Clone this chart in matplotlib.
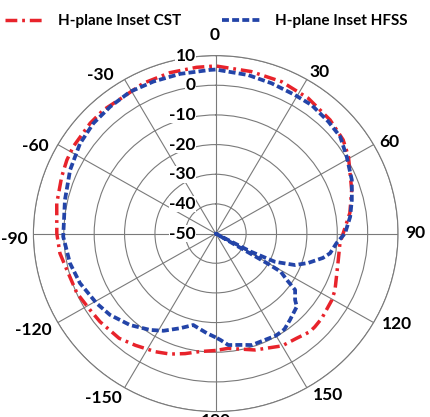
import numpy as np
import matplotlib
matplotlib.use("Agg")
import matplotlib.pyplot as plt
from matplotlib.transforms import offset_copy

plt.rcParams["font.family"] = ["Lato", "DejaVu Sans"]
plt.rcParams["lines.scale_dashes"] = False

# H-plane radiation pattern, CST simulation (angle in degrees, gain in dB)
cst_angle = [-180, -172.6, -166, -159.7, -153.5, -145, -138, -128, -122, -113.7,
             -104, -97.4, -90, -79, -69.3, -63.2, -58, -48, -41.6, -33.4,
             -25.2, -15.5, -6.4, 0, 12, 23, 33.7, 44.5, 53, 59.3,
             71.8, 81, 94.6, 102.4, 115.8, 120.4, 129.3, 134, 137, 143,
             150, 161.8, 174, 180]
cst_gain = [-10.6, -9.9, -8.3, -6.7, -5.5, -4.0, -2.5, -1.7, -1.3, -0.1,
            0.5, 1.7, 2.3, 3.3, 4.2, 4.9, 5.3, 5.6, 5.7, 5.2,
            6.0, 6.3, 6.4, 6.5, 5.85, 5.6, 4.85, 3.7, 2.5, 0.8,
            -2.9, -5.3, -9.0, -8.7, -6.4, -5.7, -4.9, -4.7, -4.7, -5.8,
            -6.3, -8.7, -11.1, -10.6]

# H-plane radiation pattern, HFSS simulation (angle in degrees, gain in dB)
hfss_angle = [-180, -175, -166.5, -159.8, -152.3, -146.4, -137.5, -128.2, -121, -110.5,
              -101.8, -91.2, -77.2, -65.9, -55.8, -47.3, -39.1, -30.5, -21.8, -12.3,
              -2, 0, 11.3, 19.9, 29.2, 36.1, 44.5, 51.4, 59, 68,
              75.8, 82.7, 89.9, 94.6, 100, 103.1, 108, 112.1, 116, 117.8,
              119.3, 120.6, 121, 123.7, 126, 130.6, 132.7, 140, 145, 150,
              162.5, 166.4, 173.7, 177.5, 180]
hfss_gain = [-15.0, -16.3, -18.3, -16.0, -13.0, -11.0, -8.2, -5.7, -4.3, -2.3,
             -1.0, 0.2, 0.9, 2.5, 4.0, 4.8, 5.1, 5.5, 5.2, 5.1,
             5.2, 5.3, 4.5, 3.9, 3.5, 3.6, 2.9, 2.4, 0.3, -1.7,
             -3.8, -5.4, -7.45, -10.1, -11.8, -13.8, -18.0, -21.8, -28.3, -37.0,
             -50.0, -30.0, -25.0, -21.9, -17.7, -15.6, -13.7, -12.0, -10.6, -10.3,
             -10.6, -11.4, -12.2, -14.1, -15.0]

series_labels = ["H-plane Inset CST", "H-plane Inset HFSS"]
theta_ticks = [0, 30, 60, 90, 120, 150, 180, 210, 240, 270, 300, 330]
theta_labels = ["0", "30", "60", "90", "120", "150", "180",
                "-150", "-120", "-90", "-60", "-30"]
r_ticks = [10, 0, -10, -20, -30, -40, -50]

# where each angle label sits relative to the outer ring: (ha, va, dx px, dy px)
label_place = {
    0: ("center", "bottom", -1, 13), 30: ("left", "bottom", 3, -1),
    60: ("left", "center", 6, 3), 90: ("left", "center", 7, 1),
    120: ("left", "center", 8, -1.5), 150: ("left", "top", 6, 1),
    180: ("center", "top", 0, -1), 210: ("right", "top", -3, -2),
    240: ("right", "center", -6, -7), 270: ("right", "center", -6, -5),
    300: ("right", "center", -9.5, -1.5), 330: ("right", "bottom", -11, -3.5),
}

fig = plt.figure(figsize=(4.30, 4.17), dpi=100)
ax = fig.add_axes([0.0777, 0.013, 0.848, 0.8537], projection="polar")
ax.set_aspect("auto")
ax.set_theta_zero_location("N")
ax.set_theta_direction(-1)
ax.set_rlim(-50, 10)

grid_col = "#7a7a7a"
lab_font = dict(fontsize=12.5, fontweight="bold")
ax.set_rgrids(r_ticks, labels=[""] * len(r_ticks))
ax.set_thetagrids(theta_ticks, labels=[""] * len(theta_ticks))
ax.grid(True, color=grid_col, linewidth=0.8)
ax.spines["polar"].set_color(grid_col)
ax.spines["polar"].set_linewidth(0.8)

r_outer = ax.get_rmax()
for t, lab in zip(theta_ticks, theta_labels):
    ha, va, dx, dy = label_place[t]
    tr = offset_copy(ax.transData, fig=fig, x=dx, y=dy, units="dots")
    ax.text(np.deg2rad(t), r_outer, lab, transform=tr, ha=ha, va=va,
            clip_on=False, **lab_font)

red = "#E8232B"
blue = "#2344A8"
ax.plot(np.deg2rad(cst_angle), cst_gain, color=red, linewidth=2.5,
        dashes=(8.5, 3.5, 2.0, 3.5), label=series_labels[0], zorder=3)
ax.plot(np.deg2rad(hfss_angle), hfss_gain, color=blue, linewidth=2.7,
        dashes=(5.0, 2.3), label=series_labels[1], zorder=3)

# radial value labels just left of the 0-degree spoke
lab_tr = offset_copy(ax.transData, fig=fig, x=-20, y=0, units="dots")
for r in r_ticks:
    ax.text(0, r, str(r), transform=lab_tr, ha="right", va="center",
            zorder=4, bbox=dict(facecolor="white", edgecolor="none", pad=0.3),
            **lab_font)

fig.legend(loc="center left", bbox_to_anchor=(5 / 430, 1 - 21 / 417), ncol=2,
           frameon=False, borderpad=0, borderaxespad=0, handlelength=2.6,
           handletextpad=0.85, columnspacing=2.7,
           prop={"weight": "bold", "size": 11})

fig.savefig("out.png", dpi=100)
